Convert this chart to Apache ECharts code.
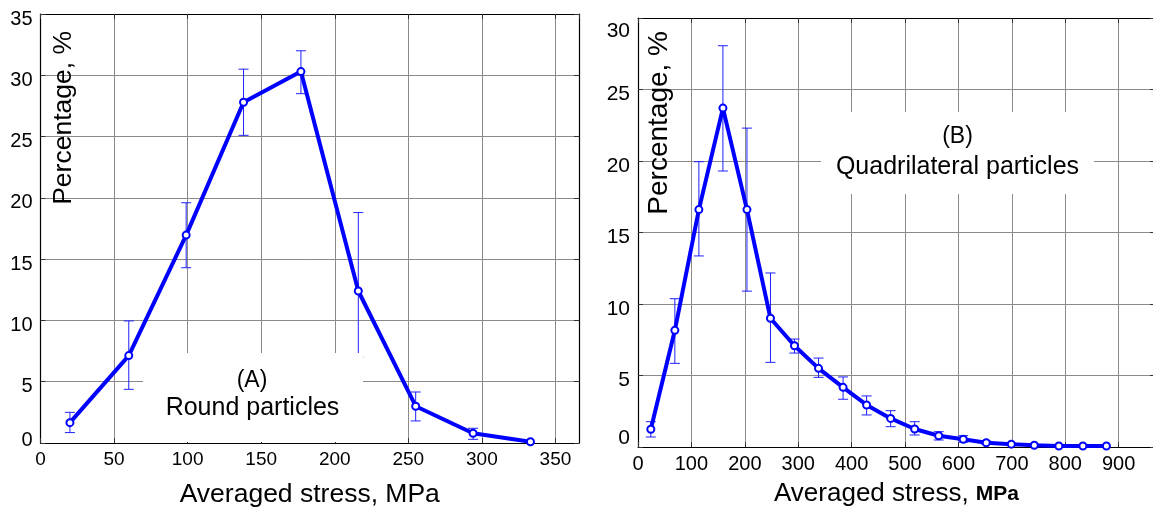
<!DOCTYPE html>
<html>
<head>
<meta charset="utf-8">
<style>
  html, body { margin: 0; padding: 0; background: #fff; }
  #chart { width: 1153px; height: 507px; }
</style>
<script src="https://cdn.jsdelivr.net/npm/echarts@6/dist/echarts.min.js"></script>
</head>
<body>
<div id="chart"></div>
<script>
// ---- Panel A: round particles ----
const roundStress = [20, 60, 99, 138, 177, 216, 255, 294, 333];
const roundPct    = [1.66, 7.13, 16.96, 27.8, 30.3, 12.4, 3.0, 0.8, 0.1];
const roundHi     = [2.5, 9.96, 19.6, 30.5, 32.0, 18.8, 4.16, 1.2, null];
const roundLo     = [0.85, 4.38, 14.3, 25.1, 28.5, 7.0, 1.8, 0.3, null];

// ---- Panel B: quadrilateral particles ----
const quadStress = [24, 69, 114, 159, 204, 248, 293, 338, 384, 428, 473, 518, 563, 609, 652, 699, 742, 788, 833, 877];
const quadPct    = [1.24, 8.16, 16.6, 23.7, 16.6, 9.0, 7.08, 5.5, 4.17, 2.94, 2.0, 1.26, 0.79, 0.54, 0.3, 0.2, 0.12, 0.07, 0.07, 0.07];
const quadHi     = [1.77, 10.37, 19.95, 28.06, 22.3, 12.17, 7.55, 6.22, 4.9, 3.57, 2.54, 1.77, 1.07, 0.79, 0.42, null, null, null, null, null];
const quadLo     = [0.7, 5.85, 13.36, 19.3, 10.9, 5.92, 6.57, 4.87, 3.34, 2.24, 1.42, 0.84, 0.49, 0.33, 0.2, null, null, null, null, null];

// ---- axis ticks ----
const roundXTicks = [0, 50, 100, 150, 200, 250, 300, 350];
const roundYTicks = [0, 5, 10, 15, 20, 25, 30, 35];
const quadXTicks  = [0, 100, 200, 300, 400, 500, 600, 700, 800, 900];
const quadYTicks  = [0, 5, 10, 15, 20, 25, 30];

const FONT = "'Liberation Sans', Arial, Helvetica, sans-serif";
const BLUE = '#0000ff';

function pairs(xs, ys) { return xs.map((x, i) => [x, ys[i]]); }
function bars(xs, hi, lo) {
  const out = [];
  xs.forEach((x, i) => { if (hi[i] != null && lo[i] != null) out.push([x, hi[i], lo[i]]); });
  return out;
}
function errRender(params, api) {
  const x = api.value(0);
  const top = api.coord([x, api.value(1)]);
  const bot = api.coord([x, api.value(2)]);
  const w = 5;
  const st = { stroke: '#2020ff', lineWidth: 1 };
  return {
    type: 'group',
    children: [
      { type: 'line', shape: { x1: top[0], y1: top[1], x2: bot[0], y2: bot[1] }, style: st },
      { type: 'line', shape: { x1: top[0] - w, y1: top[1], x2: top[0] + w, y2: top[1] }, style: st },
      { type: 'line', shape: { x1: bot[0] - w, y1: bot[1], x2: bot[0] + w, y2: bot[1] }, style: st }
    ]
  };
}

const split = { show: true, showMinLine: false, showMaxLine: false, lineStyle: { color: '#8a8a8a', width: 1 } };
const axLine = { show: true, onZero: false, lineStyle: { color: '#000', width: 1.2 } };
const tickIn = { show: true, inside: true, length: 5, lineStyle: { color: '#333' } };

function mainX(grid, max, ticks, size, name, gap, nameSize) {
  return {
    type: 'value', gridIndex: grid, position: 'bottom', min: 0, max: max, interval: ticks[1] - ticks[0],
    axisLine: axLine, axisTick: tickIn, splitLine: split,
    axisLabel: { color: '#000', fontFamily: FONT, fontSize: size, margin: 7, showMaxLabel: false },
    name: name, nameLocation: 'middle', nameGap: gap, nameMoveOverlap: false,
    nameTextStyle: { color: '#000', fontFamily: FONT, fontSize: nameSize,
      rich: { n: { fontFamily: FONT, fontSize: nameSize, color: '#000' }, b: { fontFamily: FONT, fontSize: 21, fontWeight: 'bold', color: '#000' } } }
  };
}
function sideX(grid, max, ticks) {
  return { type: 'value', gridIndex: grid, position: 'top', min: 0, max: max, interval: ticks[1] - ticks[0],
    axisLine: axLine, axisTick: tickIn, splitLine: { show: false }, axisLabel: { show: false } };
}
function mainY(grid, max, ticks, size, zeroLH, topShift) {
  return {
    type: 'value', gridIndex: grid, position: 'left', min: 0, max: max, interval: ticks[1] - ticks[0],
    axisLine: axLine, axisTick: tickIn, splitLine: split,
    axisLabel: {
      color: '#000', fontFamily: FONT, fontSize: size, margin: 8,
      formatter: v => (v === 0 ? '{z|0}' : (v === max ? '{t|' + v + '}' : '{d|' + v + '}')),
      rich: {
        d: { fontFamily: FONT, fontSize: size, color: '#000', lineHeight: size + 10, verticalAlign: 'bottom' },
        t: { fontFamily: FONT, fontSize: size, color: '#000', lineHeight: size + topShift, verticalAlign: 'bottom' },
        z: { fontFamily: FONT, fontSize: size, color: '#000', lineHeight: zeroLH, verticalAlign: 'top' }
      }
    }
  };
}
function sideY(grid, max, ticks) {
  return { type: 'value', gridIndex: grid, position: 'right', min: 0, max: max, interval: ticks[1] - ticks[0],
    axisLine: axLine, axisTick: tickIn, splitLine: { show: false }, axisLabel: { show: false } };
}

const chart = echarts.init(document.getElementById('chart'), null, { renderer: 'canvas' });
const option = {
  backgroundColor: '#fff',
  animation: false,
  grid: [
    { left: 40.5, top: 14, width: 538.5, height: 429, outerBoundsMode: 'none', containLabel: false },
    { left: 638, top: 18, width: 517, height: 429, outerBoundsMode: 'none', containLabel: false }
  ],
  xAxis: [
    mainX(0, 366, roundXTicks, 19, 'Averaged stress, MPa', 38, 26.5),
    sideX(0, 366, roundXTicks),
    mainX(1, 968, quadXTicks, 20, '{n|Averaged stress, }{b|MPa}', 34, 26),
    sideX(1, 968, quadXTicks)
  ],
  yAxis: [
    mainY(0, 35, roundYTicks, 20, 26, 10),
    sideY(0, 35, roundYTicks),
    mainY(1, 30, quadYTicks, 21, 38, 26),
    sideY(1, 30, quadYTicks)
  ],
  graphic: [
    { type: 'rect', z: 3, shape: { x: 143, y: 353, width: 220, height: 89 }, style: { fill: '#fff' } },
    { type: 'rect', z: 3, shape: { x: 821, y: 112, width: 273, height: 82 }, style: { fill: '#fff' } },
    { type: 'text', z: 6, x: 252, y: 381, style: { text: '(A)', fontFamily: FONT, fontSize: 23, fill: '#000', textAlign: 'center', textVerticalAlign: 'middle' } },
    { type: 'text', z: 6, x: 252.5, y: 408, style: { text: 'Round particles', fontFamily: FONT, fontSize: 25, fill: '#000', textAlign: 'center', textVerticalAlign: 'middle' } },
    { type: 'text', z: 6, x: 957.5, y: 137, style: { text: '(B)', fontFamily: FONT, fontSize: 23, fill: '#000', textAlign: 'center', textVerticalAlign: 'middle' } },
    { type: 'text', z: 6, x: 957.5, y: 167, style: { text: 'Quadrilateral particles', fontFamily: FONT, fontSize: 25, fill: '#000', textAlign: 'center', textVerticalAlign: 'middle' } },
    { type: 'text', z: 6, x: 64, y: 31, rotation: Math.PI / 2, style: { text: 'Percentage, %', fontFamily: FONT, fontSize: 26.5, fill: '#000', textAlign: 'right', textVerticalAlign: 'middle' } },
    { type: 'text', z: 6, x: 659, y: 31, rotation: Math.PI / 2, style: { text: 'Percentage, %', fontFamily: FONT, fontSize: 28, fill: '#000', textAlign: 'right', textVerticalAlign: 'middle' } }
  ],
  series: [
    { type: 'custom', xAxisIndex: 0, yAxisIndex: 0, z: 2, renderItem: errRender,
      encode: { x: 0, y: [1, 2] }, data: bars(roundStress, roundHi, roundLo) },
    { type: 'line', xAxisIndex: 0, yAxisIndex: 0, z: 4, data: pairs(roundStress, roundPct),
      symbol: 'emptyCircle', symbolSize: 7, lineStyle: { color: BLUE, width: 4 },
      itemStyle: { color: BLUE, borderColor: BLUE, borderWidth: 1 } },
    { type: 'custom', xAxisIndex: 2, yAxisIndex: 2, z: 2, renderItem: errRender,
      encode: { x: 0, y: [1, 2] }, data: bars(quadStress, quadHi, quadLo) },
    { type: 'line', xAxisIndex: 2, yAxisIndex: 2, z: 4, data: pairs(quadStress, quadPct),
      symbol: 'emptyCircle', symbolSize: 7, lineStyle: { color: BLUE, width: 4 },
      itemStyle: { color: BLUE, borderColor: BLUE, borderWidth: 1 } }
  ]
};
chart.setOption(option);
</script>
</body>
</html>
